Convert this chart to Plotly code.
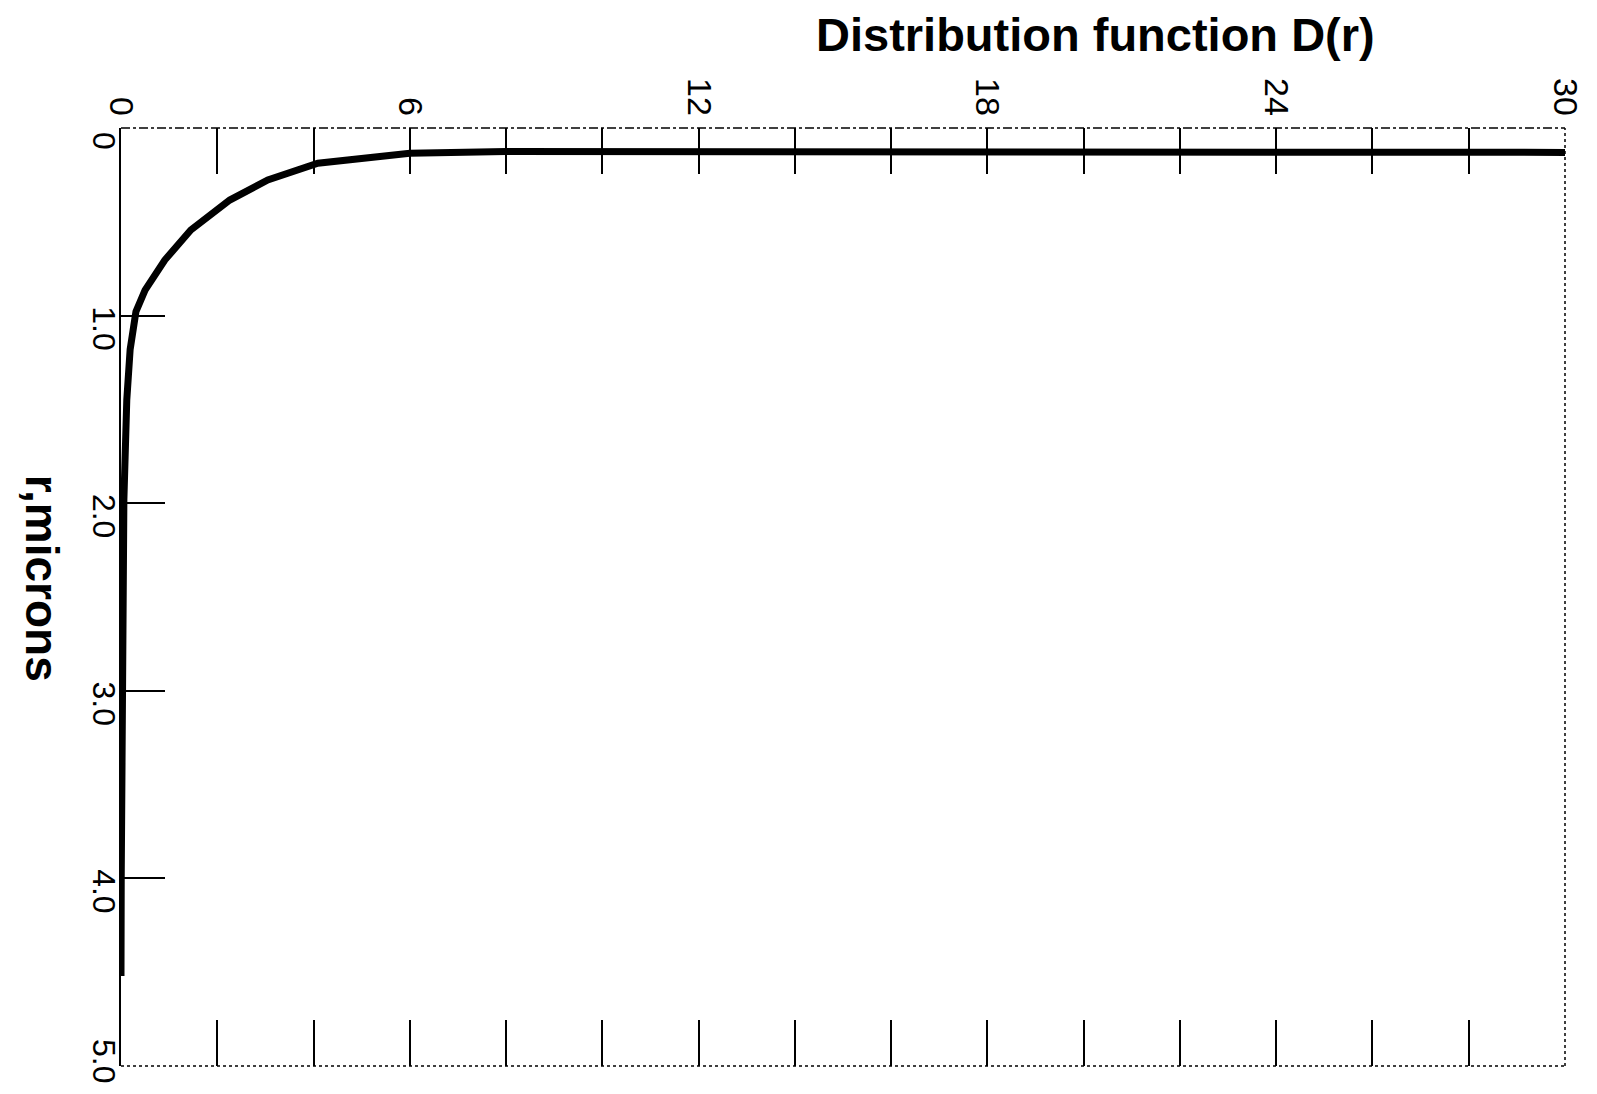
import plotly.graph_objects as go

# Data (r in microns, D(r) distribution function)
r_microns = [0.13, 0.13, 0.13, 0.128, 0.122, 0.125, 0.135, 0.188, 0.277, 0.384, 0.544,
             0.704, 0.864, 0.979, 1.18, 1.45, 1.98, 2.99, 3.99, 4.52]
D_values = [30.0, 24.0, 18.0, 12.0, 10.0, 8.0, 6.0, 4.09, 3.05, 2.26, 1.45,
            0.91, 0.50, 0.31, 0.19, 0.12, 0.06, 0.02, 0.005, 0.0]

x_tickvals = [0, 2, 4, 6, 8, 10, 12, 14, 16, 18, 20, 22, 24, 26, 28, 30]
x_ticktext = ["0", "", "", "6", "", "", "12", "", "", "18", "", "", "24", "", "", "30"]
y_tickvals = [0, 1, 2, 3, 4, 5]
NB = "\u00a0"
y_ticktext = [NB * 4 + "0", NB * 4 + "1.0", NB * 4 + "2.0", NB * 4 + "3.0",
              NB * 4 + "4.0", "5.0"]

x_title = "Distribution function D(r)"
y_title = "r,microns"

fig = go.Figure()
fig.add_trace(go.Scatter(
    x=D_values, y=r_microns, mode="lines",
    line=dict(color="black", width=7),
    hoverinfo="skip", showlegend=False,
))

tick_font = dict(family="Liberation Sans, Arial, sans-serif", size=34, color="black")
y_tick_font = dict(family="Liberation Sans, Arial, sans-serif", size=32, color="black")

# page body has an 8px margin, so the figure is sized/margined to compensate
fig.update_layout(
    width=1581, height=1078,
    margin=dict(l=113, r=24, t=120, b=20, autoexpand=False),
    paper_bgcolor="white", plot_bgcolor="white",
    showlegend=False,
    xaxis=dict(
        side="top", range=[0, 30], tickmode="array",
        tickvals=x_tickvals, ticktext=x_ticktext,
        ticks="inside", ticklen=46, tickwidth=2, tickcolor="black",
        mirror="allticks", showline=False, showgrid=False, zeroline=False,
        tickangle=90, tickfont=tick_font, ticklabelstandoff=6,
        automargin=False, ticklabeloverflow="allow",
    ),
    yaxis=dict(
        range=[5, 0], tickmode="array",
        tickvals=y_tickvals, ticktext=y_ticktext,
        ticks="inside", ticklen=44, tickwidth=2, tickcolor="black",
        showline=True, linecolor="black", linewidth=2, mirror=False,
        showgrid=False, zeroline=False,
        tickangle=90, tickfont=y_tick_font, ticklabelstandoff=-12,
        automargin=False, ticklabeloverflow="allow",
    ),
    shapes=[
        dict(type="line", xref="paper", yref="paper", x0=0, x1=1, y0=1, y1=1,
             line=dict(color="black", width=1.5, dash="dashdot")),
        dict(type="line", xref="paper", yref="paper", x0=1, x1=1, y0=0, y1=1,
             line=dict(color="black", width=1.5, dash="dot")),
        dict(type="line", xref="paper", yref="paper", x0=0, x1=1, y0=0, y1=0,
             line=dict(color="black", width=1.5, dash="dot")),
    ],
    annotations=[
        dict(text=x_title, xref="paper", yref="paper", x=0.675, y=1.1,
             xanchor="center", yanchor="middle", showarrow=False,
             font=dict(family="Liberation Sans, Arial, sans-serif", size=47, color="black", weight="bold")),
        dict(text=y_title, xref="paper", yref="paper", x=-0.055, y=0.52,
             xanchor="center", yanchor="middle", showarrow=False, textangle=90,
             font=dict(family="Liberation Sans, Arial, sans-serif", size=46, color="black", weight="bold")),
    ],
)

fig.write_html("out.html")
